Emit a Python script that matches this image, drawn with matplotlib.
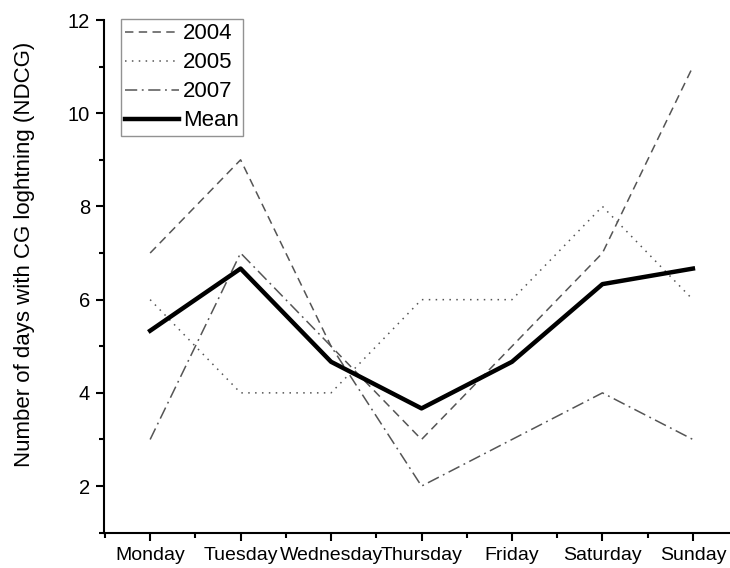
import matplotlib
matplotlib.use("Agg")
import matplotlib.pyplot as plt
from matplotlib.ticker import MultipleLocator

days = ["Monday", "Tuesday", "Wednesday", "Thursday", "Friday", "Saturday", "Sunday"]
y2004 = [7, 9, 5, 3, 5, 7, 11]
y2005 = [6, 4, 4, 6, 6, 8, 6]
y2007 = [3, 7, 5, 2, 3, 4, 3]
mean = [(a + b + c) / 3 for a, b, c in zip(y2004, y2005, y2007)]

plt.rcParams['font.family'] = ['Liberation Sans', 'DejaVu Sans']

fig = plt.figure(figsize=(7.3, 5.68), dpi=100)
ax = fig.add_axes([104/730, (568-532.7)/568, 1 - 104/730, (532.7-20)/568])

x = list(range(len(days)))
ax.plot(x, y2004, color='#555555', lw=1.1, linestyle=(0, (5.5, 3.5)), label='2004')
ax.plot(x, y2005, color='#555555', lw=1.1, linestyle=(0, (1, 3.5)), label='2005')
ax.plot(x, y2007, color='#555555', lw=1.1, linestyle=(0, (8, 3, 1.2, 3)), label='2007')
ax.plot(x, mean, color='black', lw=3.2, label='Mean')

ax.set_xlim(-0.51, 6.41)
ax.set_ylim(1, 12)
ax.set_xticks(x)
ax.set_xticklabels(days, fontsize=14)
ax.xaxis.set_minor_locator(MultipleLocator(0.5))
ax.set_yticks([2, 4, 6, 8, 10, 12])
ax.yaxis.set_minor_locator(MultipleLocator(1))
ax.tick_params(axis='y', labelsize=14.5)

for s in ['top', 'right']:
    ax.spines[s].set_visible(False)
for s in ['left', 'bottom']:
    ax.spines[s].set_linewidth(1.5)
ax.tick_params(which='major', direction='out', length=6, width=1.5, pad=4)
ax.tick_params(which='minor', direction='out', length=3.5, width=1.5)

ax.set_ylabel('Number of days with CG loghtning (NDCG)', fontsize=16)
ax.yaxis.set_label_coords(-0.110, 0.542)

leg = ax.legend(loc='upper left', bbox_to_anchor=(0.027, 1.002), fontsize=16,
                frameon=True, fancybox=False, handlelength=2.4, handletextpad=0.2,
                borderpad=0.2, labelspacing=0.36, borderaxespad=0.0)
leg.get_frame().set_edgecolor('#777777')
leg.get_frame().set_linewidth(1.0)

fig.savefig('out.png', dpi=100)
